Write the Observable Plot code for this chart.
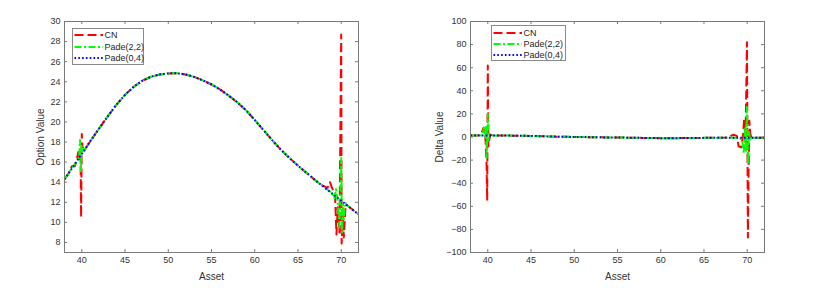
<!DOCTYPE html>
<html><head><meta charset="utf-8">
<script src="https://cdn.jsdelivr.net/npm/d3@7"></script>
<script src="https://cdn.jsdelivr.net/npm/@observablehq/plot@0.6"></script>
<style>
body{margin:0;background:#fff;}
#wrap{position:relative;width:835px;height:288px;display:flex;font-family:"Liberation Sans",Arial,sans-serif;background:#fff;}
.legend{position:absolute;background:#fff;border:1px solid #8a8a8a;box-sizing:border-box;font-size:9px;color:#262626;}
.legend .row{position:absolute;left:0;height:12px;display:flex;align-items:center;white-space:nowrap;}
.legend svg{display:block;}
g[aria-label="x-axis label"] text, g[aria-label="y-axis label"] text{font-size:10px;}
</style></head><body><div id="wrap"></div>
<script>
// ---------- data ----------
const asset = [38,39,40,41,42,43,44,45,46,47,48,49,50,51,52,53,54,55,56,57,58,59,60,61,62,63,64,65,66,67,68,69,70,71,72];
const optionBase = [14.3,15.55,16.82,18.1,19.35,20.55,21.7,22.7,23.5,24.1,24.5,24.72,24.83,24.85,24.73,24.48,24.14,23.73,23.23,22.61,21.95,21.15,20.2,19.2,18.2,17.25,16.42,15.65,14.92,14.2,13.52,12.84,12.16,11.48,10.8];
const deltaBase = [1.25,1.26,1.28,1.28,1.22,1.18,1.08,0.9,0.7,0.5,0.3,0.16,0.06,-0.05,-0.2,-0.3,-0.37,-0.45,-0.55,-0.68,-0.8,-0.92,-1.0,-1.0,-0.98,-0.88,-0.8,-0.75,-0.72,-0.7,-0.68,-0.68,-0.68,-0.68,-0.68];

// CN oscillations (option value)
const cnOptAssetLow = [38.5,38.85,39.2,39.4,39.6,39.7,39.85,39.92,40.0,40.08,40.2,40.4,40.7];
const cnOptValueLow = [14.9,15.6,15.6,16.2,17.0,16.3,17.2,10.5,18.8,17.3,17.6,17.3,17.7];
const cnOptAssetHigh = [67.5,68.0,68.4,68.7,69.0,69.3,69.45,69.6,69.8,70.0,70.05,70.2,70.3,70.5,70.7];
const cnOptValueHigh = [13.8,13.6,13.4,14.0,13.3,12.4,8.8,11.5,9.0,28.7,7.9,10.8,8.5,11.6,11.7];
// Pade(2,2) oscillations (option value)
const p22OptAssetLow = [38.7,39.2,39.5,39.7,39.8,39.9,39.97,40.05,40.15,40.3,40.6];
const p22OptValueLow = [15.2,15.8,16.2,16.6,18.2,15.1,17.6,16.9,17.4,17.1,17.6];
const p22OptAssetHigh = [68.5,69.0,69.2,69.4,69.6,69.8,69.9,70.0,70.1,70.2,70.3,70.45,70.6];
const p22OptValueHigh = [13.2,12.9,12.4,13.3,12.0,9.5,12.6,16.4,9.0,11.8,10.3,12.0,11.75];
// CN oscillations (delta)
const cnDelAssetLow = [38.7,39.1,39.3,39.5,39.7,39.85,39.93,40.0,40.07,40.15,40.3,40.6];
const cnDelValueLow = [1.3,1.5,4,8,3,-20,-55,62,-8,-3,2,1.3];
const cnDelAssetHigh = [67.5,68.0,68.4,68.8,69.0,69.3,69.5,69.65,69.8,69.97,70.08,70.15,70.25,70.35,70.5,70.7];
const cnDelValueHigh = [-0.5,0.5,2,1,-8,-9,0,16,-5,82,-87,-35,14,3,-1,-0.7];
// Pade(2,2) oscillations (delta)
const p22DelAssetLow = [38.7,39.2,39.4,39.55,39.7,39.8,39.87,39.95,40.0,40.07,40.15,40.3,40.6];
const p22DelValueLow = [1.3,1.3,2,8,0,10,-18,5,20,-3,3,1.5,1.3];
const p22DelAssetHigh = [68.5,69.0,69.4,69.6,69.75,69.85,69.97,70.05,70.1,70.2,70.3,70.5,70.7];
const p22DelValueHigh = [-0.6,-1,-2,-14,8,-12,26,-8,-24,5,-3,0,-0.7];

const xTicks = [40,45,50,55,60,65,70];
const optionTicks = [8,10,12,14,16,18,20,22,24,26,28,30];
const deltaTicks = [-100,-80,-60,-40,-20,0,20,40,60,80,100];
const seriesNames = ["CN","Pade(2,2)","Pade(0,4)"];

// ---------- helpers ----------
function buildSeries(bx, by, clusters) {
  const pts = [];
  bx.forEach((a, i) => {
    const inside = clusters.some(([cx]) => a > d3.min(cx) && a < d3.max(cx));
    if (!inside) pts.push({asset: a, value: by[i]});
  });
  clusters.forEach(([cx, cy]) => cx.forEach((a, i) => pts.push({asset: a, value: cy[i]})));
  return pts.sort((p, q) => p.asset - q.asset);
}
const baseSeries = (bx, by) => bx.map((a, i) => ({asset: a, value: by[i]}));

const styles = [
  {stroke: "#ff0000", strokeWidth: 2, strokeDasharray: "9,4"},
  {stroke: "#00ff00", strokeWidth: 2, strokeDasharray: "7,2.5,2,2.5"},
  {stroke: "#0000ff", strokeWidth: 2, strokeDasharray: "1.6,2.2"}
];

const H = 288, MT = 21, MB = 36;
const frameColor = "#7a7a7a";

function panel({width, marginLeft, marginRight, yDomain, yTicks, yLabel, ylabelOffset, data}) {
  const plotH = H - MT - MB;
  const plotW = width - marginLeft - marginRight;
  return Plot.plot({
    width, height: H, marginLeft, marginRight, marginTop: MT, marginBottom: MB,
    style: {fontFamily: '"Liberation Sans", Arial, sans-serif', fontSize: "9px", color: "#333", background: "#fff", overflow: "visible"},
    x: {domain: [38, 72]},
    y: {domain: yDomain},
    marks: [
      Plot.axisX(xTicks, {tickSize: 0, tickPadding: 4, label: "Asset", labelAnchor: "center", labelOffset: 27, labelArrow: "none"}),
      Plot.axisY(yTicks, {tickSize: 0, tickPadding: 4, label: yLabel, labelAnchor: "center", labelOffset: ylabelOffset, labelArrow: "none"}),
      ...data.map((d, i) => Plot.line(d, {x: "asset", y: "value", ...styles[i], strokeLinecap: "butt", clip: true})),
      Plot.frame({stroke: frameColor, strokeWidth: 1}),
      Plot.tickX(xTicks, {x: d => d, insetTop: plotH - 3, stroke: frameColor}),
      Plot.tickX(xTicks, {x: d => d, insetBottom: plotH - 3, stroke: frameColor}),
      Plot.tickY(yTicks, {y: d => d, insetRight: plotW - 3, stroke: frameColor}),
      Plot.tickY(yTicks, {y: d => d, insetLeft: plotW - 3, stroke: frameColor})
    ]
  });
}

const optionData = [
  buildSeries(asset, optionBase, [[cnOptAssetLow, cnOptValueLow], [cnOptAssetHigh, cnOptValueHigh]]),
  buildSeries(asset, optionBase, [[p22OptAssetLow, p22OptValueLow], [p22OptAssetHigh, p22OptValueHigh]]),
  baseSeries(asset, optionBase)
];
const deltaData = [
  buildSeries(asset, deltaBase, [[cnDelAssetLow, cnDelValueLow], [cnDelAssetHigh, cnDelValueHigh]]),
  buildSeries(asset, deltaBase, [[p22DelAssetLow, p22DelValueLow], [p22DelAssetHigh, p22DelValueHigh]]),
  baseSeries(asset, deltaBase)
];

const wrap = document.getElementById("wrap");
wrap.appendChild(panel({width: 417, marginLeft: 64, marginRight: 59, yDomain: [7, 30], yTicks: optionTicks, yLabel: "Option Value", ylabelOffset: 28, data: optionData}));
wrap.appendChild(panel({width: 418, marginLeft: 53, marginRight: 71, yDomain: [-100, 100], yTicks: deltaTicks, yLabel: "Delta Value", ylabelOffset: 35, data: deltaData}));

function legend(left, top, width, height, rowGap) {
  const box = document.createElement("div");
  box.className = "legend";
  Object.assign(box.style, {left: left + "px", top: top + "px", width: width + "px", height: height + "px"});
  seriesNames.forEach((name, i) => {
    const row = document.createElement("div");
    row.className = "row";
    row.style.top = (0.5 + i * rowGap) + "px";
    const s = styles[i];
    row.innerHTML = `<svg width="32" height="12"><line x1="1.5" x2="30" y1="6" y2="6" stroke="${s.stroke}" stroke-width="${s.strokeWidth}" stroke-dasharray="${s.strokeDasharray}"/></svg><span>${name}</span>`;
    box.appendChild(row);
  });
  wrap.appendChild(box);
}
legend(71.5, 27.5, 72, 37, 11.7);
legend(490.5, 25, 75, 36, 11.2);
</script></body></html>
